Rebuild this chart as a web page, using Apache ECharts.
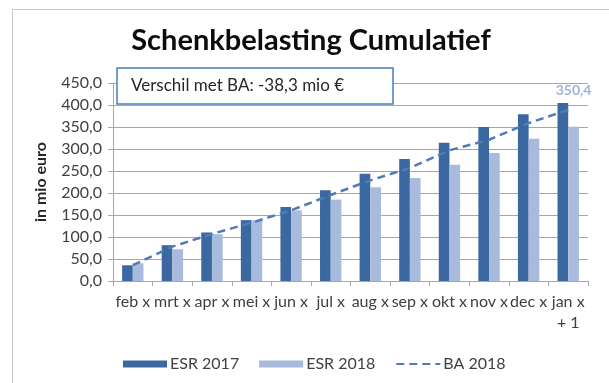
<!DOCTYPE html>
<html>
<head>
<meta charset="utf-8">
<script src="https://cdn.jsdelivr.net/npm/echarts@6/dist/echarts.min.js"></script>
<style>
  html, body { margin: 0; padding: 0; background: #ffffff; }
  #chart { width: 609px; height: 383px; }
</style>
</head>
<body>
<div id="chart"></div>
<script>
// Months (cumulative up to and including the month)
const months = ['feb x', 'mrt x', 'apr x', 'mei x', 'jun x', 'jul x', 'aug x', 'sep x', 'okt x', 'nov x', 'dec x', 'jan x\n+ 1'];
// Cumulative receipts, in million euro
const esr2017 = [35.7, 81.4, 110.3, 138.4, 168.2, 206.0, 244.0, 277.4, 314.4, 350.0, 378.8, 404.6];
const esr2018 = [40.3, 72.2, 106.5, 137.6, 160.6, 184.9, 212.9, 234.2, 264.4, 290.9, 323.5, 350.4];
const ba2018  = [36.0, 78.0, 106.8, 132.6, 160.6, 195.5, 228.8, 256.8, 297.0, 321.0, 359.0, 388.7];
// Value axis range
const yMin = 0;
const yMax = 450;
const yStep = 50;

const FONT = 'Lato';
const fmt = v => v.toFixed(1).replace('.', ',');

const lastIdx = esr2018.length - 1;
const diff = esr2018[lastIdx] - ba2018[lastIdx];
const diffText = 'Verschil met BA: ' + fmt(diff) + ' mio \u20AC';

const esr2018Data = esr2018.map((v, i) => i === lastIdx ? {
  value: v,
  label: {
    show: true, position: 'top', offset: [0, -24],
    fontFamily: FONT, fontWeight: 'bold', fontSize: 14, color: '#9db4d9',
    formatter: p => fmt(p.value)
  }
} : v);

const chart = echarts.init(document.getElementById('chart'), null, { renderer: 'canvas' });

chart.setOption({
  backgroundColor: '#ffffff',
  animation: false,
  title: {
    text: 'Schenkbelasting Cumulatief',
    left: 306, top: 21, textAlign: 'center',
    textStyle: { fontFamily: FONT, fontWeight: 'bold', fontSize: 29, color: '#0d0d0d' }
  },
  grid: { left: 113, right: 21, top: 83, bottom: 102, containLabel: false },
  legend: {
    left: 123, top: 356, padding: 0,
    itemWidth: 44, itemHeight: 7, itemGap: 20,
    textStyle: { fontFamily: FONT, fontSize: 16, color: '#404040', padding: [0, 0, 0, -2] },
    data: [
      { name: 'ESR 2017', icon: 'rect' },
      { name: 'ESR 2018', icon: 'rect' },
      { name: 'BA 2018', itemStyle: { color: 'rgba(0,0,0,0)', borderWidth: 0 } }
    ]
  },
  xAxis: {
    type: 'category',
    data: months,
    axisLine: { lineStyle: { color: '#a6a6a6', width: 1 } },
    axisTick: { show: true, length: 5, lineStyle: { color: '#a6a6a6' } },
    axisLabel: {
      interval: 0, margin: 10, lineHeight: 21,
      fontFamily: FONT, fontSize: 16, color: '#404040'
    }
  },
  yAxis: {
    type: 'value',
    min: yMin, max: yMax, interval: yStep,
    name: 'in mio euro',
    nameLocation: 'middle', nameRotate: 90, nameGap: 64,
    nameTextStyle: { fontFamily: FONT, fontWeight: 'bold', fontSize: 16, color: '#262626' },
    axisLine: { show: true, lineStyle: { color: '#a6a6a6', width: 1 } },
    axisTick: { show: true, length: 5, lineStyle: { color: '#a6a6a6' } },
    axisLabel: {
      margin: 11, fontFamily: FONT, fontSize: 16, color: '#404040',
      formatter: v => fmt(v)
    },
    splitLine: { lineStyle: { color: '#a6a6a6', width: 1.2 } }
  },
  series: [
    {
      name: 'ESR 2017', type: 'bar', data: esr2017,
      itemStyle: { color: '#3c68a2' },
      barGap: '0%', barCategoryGap: '46%'
    },
    {
      name: 'ESR 2018', type: 'bar', data: esr2018Data,
      itemStyle: { color: '#a8bbdc' },
      barGap: '0%', barCategoryGap: '46%'
    },
    {
      name: 'BA 2018', type: 'line', data: ba2018,
      showSymbol: false, symbol: 'none', z: 5,
      lineStyle: { color: '#4f7bb6', width: 2.5, type: [8, 5] },
      itemStyle: { color: '#4f7bb6' }
    }
  ],
  graphic: [
    {
      type: 'rect', z: 0, silent: true,
      shape: { x: 12.5, y: 9.5, width: 700, height: 500 },
      style: { fill: 'none', stroke: '#c8c8c8', lineWidth: 1 }
    },
    {
      type: 'rect', z: 10,
      shape: { x: 117, y: 68, width: 276, height: 36 },
      style: { fill: '#ffffff', stroke: '#4a7ebb', lineWidth: 1.5 }
    },
    {
      type: 'text', z: 11,
      x: 131, y: 86,
      style: {
        text: diffText, fontFamily: FONT, fontSize: 17, fill: '#262626',
        verticalAlign: 'middle', align: 'left'
      }
    }
  ]
});
</script>
</body>
</html>
